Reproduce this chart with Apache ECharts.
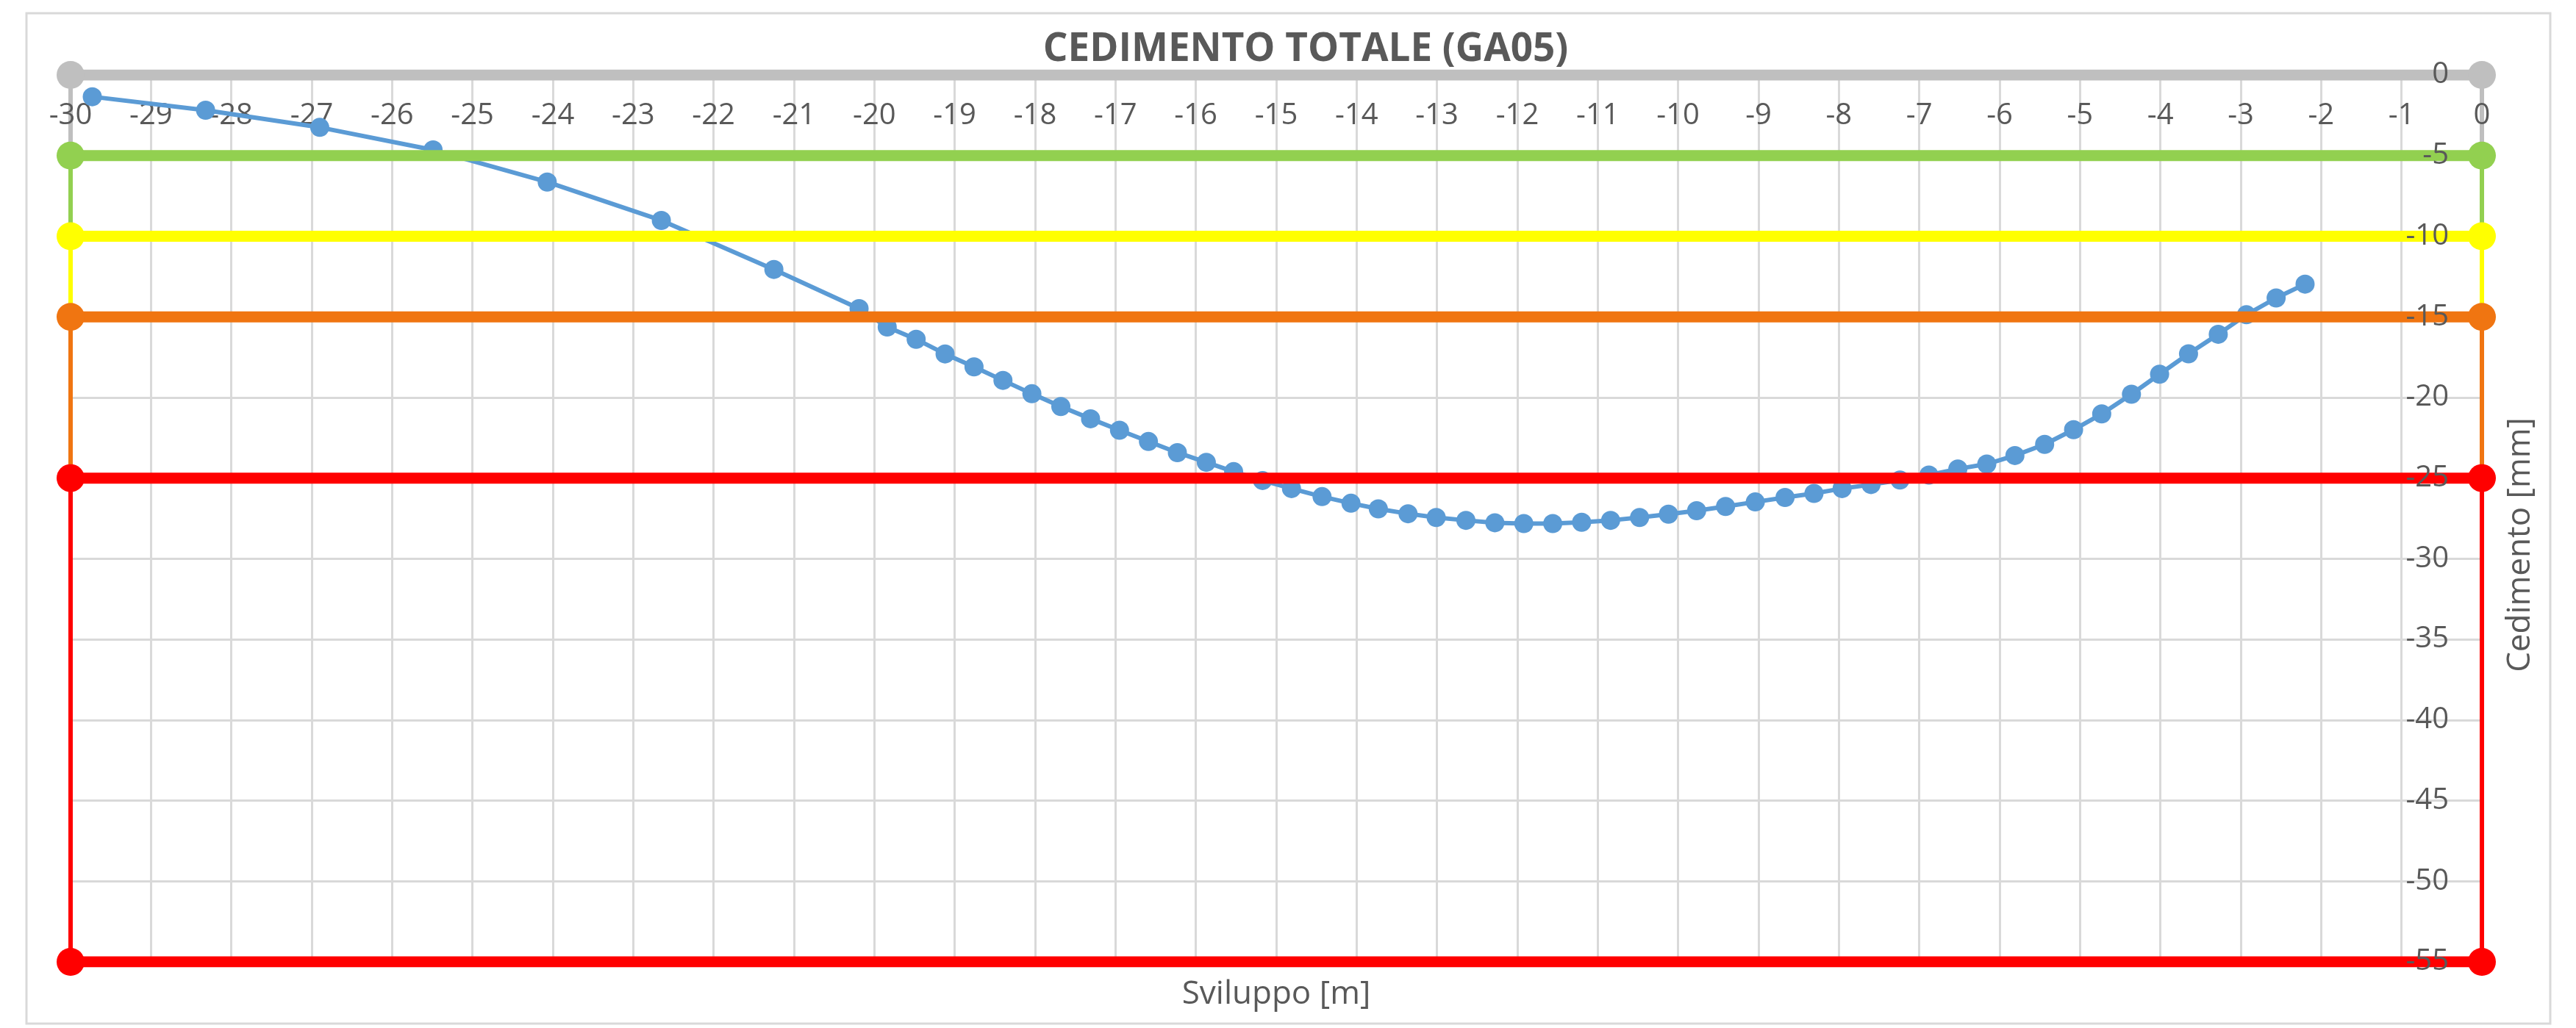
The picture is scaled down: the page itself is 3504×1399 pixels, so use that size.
<!DOCTYPE html>
<html lang="it">
<head>
    <meta charset="UTF-8">
    <title>CEDIMENTO TOTALE (GA05)</title>
    <script src="https://cdn.jsdelivr.net/npm/echarts@6/dist/echarts.min.js"></script>
</head>
<body>
<div id="cedimento"></div>
<script type="text/javascript">
    // sviluppo [m]
    var sviluppo = [-29.73, -28.32, -26.90, -25.49, -24.07, -22.65, -21.25, -20.19,
        -19.84, -19.48, -19.12, -18.76, -18.40, -18.04, -17.68, -17.31, -16.95, -16.59,
        -16.23, -15.87, -15.53, -15.17, -14.81, -14.43, -14.07, -13.73, -13.36, -13.01,
        -12.64, -12.28, -11.92, -11.56, -11.20, -10.84, -10.48, -10.12, -9.77, -9.41,
        -9.04, -8.67, -8.31, -7.96, -7.60, -7.24, -6.88, -6.52, -6.16, -5.81, -5.44,
        -5.08, -4.73, -4.36, -4.01, -3.65, -3.28, -2.93, -2.56, -2.20];
    // cedimento [mm]
    var cedimento = [-1.35, -2.19, -3.25, -4.65, -6.64, -9.02, -12.06, -14.49,
        -15.63, -16.39, -17.30, -18.10, -18.94, -19.77, -20.56, -21.32, -22.03, -22.73,
        -23.42, -24.02, -24.60, -25.15, -25.65, -26.15, -26.56, -26.91, -27.21, -27.44,
        -27.62, -27.77, -27.82, -27.82, -27.74, -27.62, -27.44, -27.24, -27.02, -26.76,
        -26.48, -26.20, -25.95, -25.65, -25.40, -25.12, -24.81, -24.43, -24.13, -23.60, -22.91,
        -22.00, -21.02, -19.80, -18.56, -17.29, -16.08, -14.87, -13.83, -12.97];

    // soglie
    var soglie = [0, -5, -10, -15, -25, -55];
    var coloriSoglie = ['#BFBFBF', '#92D050', '#FFFF00', '#F07511', '#FF0000', '#FF0000'];
    var xMin = -30, xMax = 0;
    var yMin = -55, yMax = 0;

    var testo = '#595959';
    var font = 'Open Sans';
    var griglia = { lineStyle: { color: '#D9D9D9', width: 3 } };

    var el = document.getElementById('cedimento');
    el.style.width = '3504px';
    el.style.height = '1399px';

    var serie = [];
    var punti = [];
    for (var i = 0; i < sviluppo.length; i++) {
        punti.push([sviluppo[i], cedimento[i]]);
    }
    serie.push({
        name: 'Cedimento',
        type: 'line',
        z: 3,
        data: punti,
        symbol: 'circle',
        symbolSize: 26,
        itemStyle: { color: '#5B9BD5' },
        lineStyle: { color: '#5B9BD5', width: 6 }
    });

    // tratti verticali tra una soglia e la successiva (sotto le etichette)
    for (var j = 0; j < soglie.length - 1; j++) {
        [xMin, xMax].forEach(function (xx) {
            serie.push({
                type: 'line',
                z: 1,
                data: [[xx, soglie[j]], [xx, soglie[j + 1]]],
                symbol: 'none',
                lineStyle: { color: coloriSoglie[j], width: 6 }
            });
        });
    }
    // linee orizzontali delle soglie
    for (var k = 0; k < soglie.length; k++) {
        serie.push({
            type: 'line',
            z: 4,
            data: [[xMin, soglie[k]], [xMax, soglie[k]]],
            symbol: 'circle',
            symbolSize: 38,
            itemStyle: { color: coloriSoglie[k] },
            lineStyle: { color: coloriSoglie[k], width: 15 }
        });
    }

    var myChart = echarts.init(el);
    var option = {
        animation: false,
        backgroundColor: '#ffffff',
        title: {
            text: 'CEDIMENTO TOTALE (GA05)',
            left: 1771,
            top: 36,
            textAlign: 'center',
            textStyle: { color: testo, fontFamily: font, fontWeight: 'bold', fontSize: 53 }
        },
        grid: { left: 96, right: 128, top: 102, bottom: 90 },
        graphic: [{
            type: 'rect',
            shape: { x: 36, y: 18, width: 3433, height: 1375 },
            style: { fill: 'none', stroke: '#D9D9D9', lineWidth: 3 },
            z: -1
        }],
        xAxis: [{
            // griglia verticale
            type: 'value',
            position: 'top',
            min: xMin,
            max: xMax,
            interval: 1,
            z: 0,
            axisLine: { show: false },
            axisTick: { show: false },
            axisLabel: { show: false },
            splitLine: griglia
        }, {
            // etichette in alto
            type: 'value',
            position: 'top',
            min: xMin,
            max: xMax,
            interval: 1,
            z: 2,
            axisLine: { show: false },
            axisTick: { show: false },
            axisLabel: {
                inside: true,
                margin: 36,
                showMinLabel: true,
                showMaxLabel: true,
                color: testo,
                fontFamily: font,
                fontSize: 40
            },
            splitLine: { show: false }
        }, {
            type: 'value',
            position: 'bottom',
            min: xMin,
            max: xMax,
            name: 'Sviluppo [m]',
            nameLocation: 'middle',
            nameGap: 22,
            nameTextStyle: { color: testo, fontFamily: font, fontSize: 44 },
            axisLine: { show: false },
            axisTick: { show: false },
            axisLabel: { show: false },
            splitLine: { show: false }
        }],
        yAxis: [{
            // griglia orizzontale, sotto le serie
            type: 'value',
            position: 'right',
            min: yMin,
            max: yMax,
            interval: 5,
            z: 0,
            axisLine: { show: false },
            axisTick: { show: false },
            axisLabel: { show: false },
            splitLine: griglia
        }, {
            // etichette sopra le linee di soglia
            type: 'value',
            position: 'right',
            min: yMin,
            max: yMax,
            interval: 5,
            z: 20,
            name: 'Cedimento [mm]',
            nameLocation: 'middle',
            nameGap: 30,
            nameTextStyle: { color: testo, fontFamily: font, fontSize: 44, padding: [0, 72, 0, 0] },
            axisLine: { show: false },
            axisTick: { show: false },
            axisLabel: {
                inside: true,
                margin: 45,
                color: testo,
                fontFamily: font,
                fontSize: 40
            },
            splitLine: { show: false }
        }],
        series: serie
    };
    myChart.setOption(option);
</script>
<style>
    * {
        padding: 0;
        margin: 0;
    }
    body {
        background: #ffffff;
    }
</style>
</body>
</html>
